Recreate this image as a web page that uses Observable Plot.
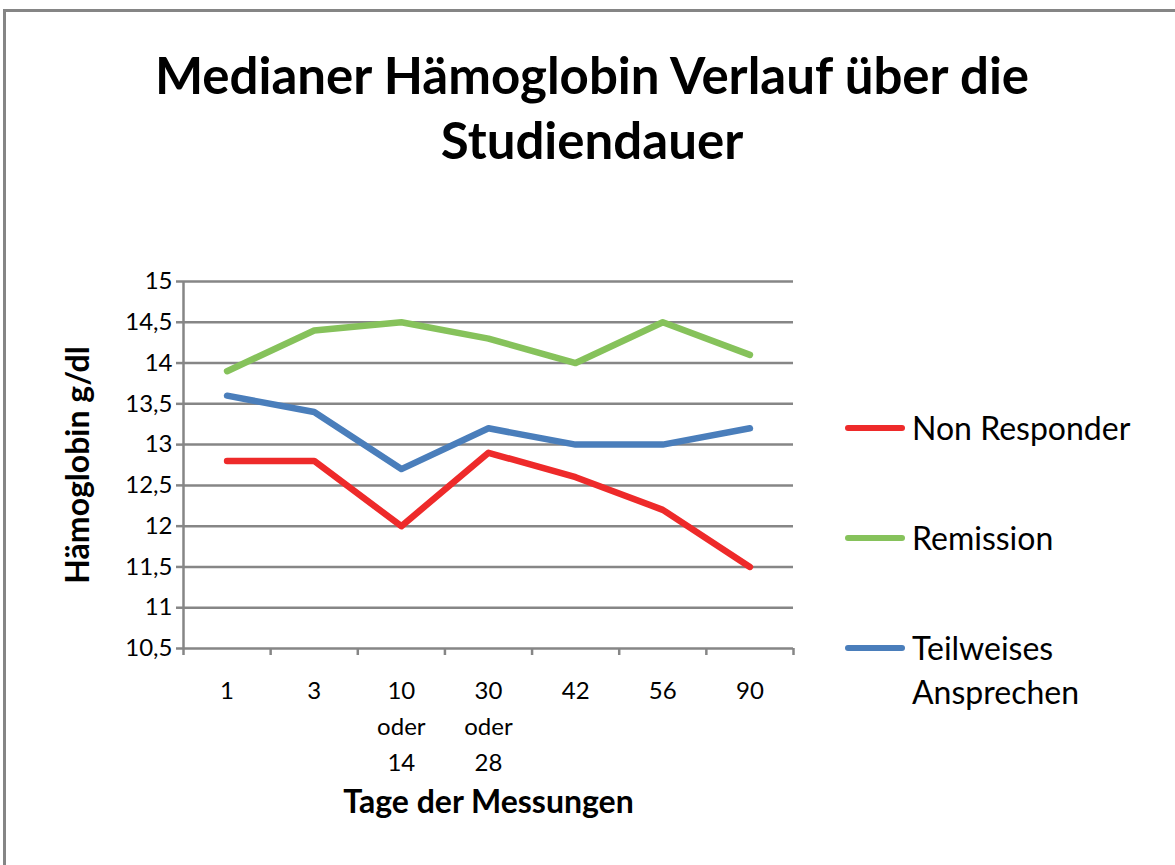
<!DOCTYPE html>
<html><head><meta charset="utf-8">
<script src="https://cdn.jsdelivr.net/npm/d3@7"></script>
<script src="https://cdn.jsdelivr.net/npm/@observablehq/plot@0.6"></script>
<style>
body{margin:0;background:#fff;}
#wrap{position:relative;width:1175px;height:865px;overflow:hidden;font-family:Lato,"Open Sans",sans-serif;color:#000;}
#frame{position:absolute;left:3px;top:9px;width:1200px;height:900px;border:3px solid #858585;box-sizing:border-box;}
#title{position:absolute;left:0;width:1184px;top:42px;text-align:center;font-weight:bold;font-size:51px;line-height:65px;}
#chart{position:absolute;left:0;top:0;}
#legend{position:absolute;left:845px;top:0;}
.li{position:absolute;left:0;width:320px;font-size:32px;line-height:44px;}
.sw{position:absolute;left:0;width:60px;height:6px;border-radius:3px;}
.lt{position:absolute;left:67px;white-space:nowrap;}
</style></head>
<body>
<div id="wrap">
  <div id="frame"></div>
  <div id="title">Medianer Hämoglobin Verlauf über die<br>Studiendauer</div>
  <div id="chart"></div>
  <div id="legend"></div>
</div>
<script>
const categories = ["1", "3", "10\noder\n14", "30\noder\n28", "42", "56", "90"];
const seriesNames = ["Non Responder", "Remission", "Teilweises Ansprechen"];
const legendLabels = ["Non Responder", "Remission", "Teilweises<br>Ansprechen"];
const nonResponder = [12.8, 12.8, 12.0, 12.9, 12.6, 12.2, 11.5];
const remission    = [13.9, 14.4, 14.5, 14.3, 14.0, 14.5, 14.1];
const teilweise    = [13.6, 13.4, 12.7, 13.2, 13.0, 13.0, 13.2];
const yTicks = [10.5, 11, 11.5, 12, 12.5, 13, 13.5, 14, 14.5, 15];
const colors = ["#ee2a2a", "#86c25b", "#4a7ebb"];

const seriesValues = [nonResponder, remission, teilweise];
const data = [];
seriesValues.forEach((vals, s) => vals.forEach((v, i) => data.push({series: seriesNames[s], i: i + 1, v})));
const bounds = d3.range(categories.length + 1).map(i => i + 0.5);
const labelData = categories.map((c, i) => ({i: i + 1, c}));
const grid = "#868686";

const chart = Plot.plot({
  width: 1175, height: 865,
  marginLeft: 183, marginRight: 382, marginTop: 281, marginBottom: 217,
  style: {fontFamily: "Lato, 'Open Sans', sans-serif", color: "#000", background: "transparent"},
  x: {type: "linear", domain: [0.5, categories.length + 0.5], axis: null, label: null},
  y: {domain: [10.5, 15], axis: null, label: null},
  color: {domain: seriesNames, range: colors},
  marks: [
    Plot.ruleY(yTicks, {stroke: grid, strokeWidth: 2.5}),
    Plot.axisY({ticks: yTicks, label: null, tickSize: 7, tickPadding: 4, stroke: grid, strokeWidth: 2.5, strokeOpacity: 1,
      tickFormat: d => String(d).replace(".", ","), fontSize: 24, fill: "#000"}),
    Plot.axisX({ticks: bounds, label: null, tickSize: 7, tickFormat: () => "", stroke: grid, strokeWidth: 2.5, strokeOpacity: 1}),
    Plot.ruleX([0.5], {stroke: grid, strokeWidth: 2.5}),
    Plot.text(labelData, {x: "i", text: "c", frameAnchor: "bottom", dy: 25, lineAnchor: "top", lineHeight: 1.5, fontSize: 24, fill: "#000"}),
    Plot.line(data, {x: "i", y: "v", z: "series", stroke: "series", strokeWidth: 6.5, strokeLinejoin: "round", strokeLinecap: "round"}),
    Plot.text(["Hämoglobin g/dl"], {frameAnchor: "left", dx: -105, rotate: -90, textAnchor: "middle", fontWeight: "bold", fontSize: 32, fill: "#000"}),
    Plot.text(["Tage der Messungen"], {frameAnchor: "bottom", dy: 164, fontWeight: "bold", fontSize: 32, fill: "#000"})
  ]
});
document.getElementById("chart").appendChild(chart);

const lg = document.getElementById("legend");
const tops = [428, 538, 648];
seriesNames.forEach((s, k) => {
  const d = document.createElement("div");
  d.className = "li";
  d.style.top = (tops[k] - 22) + "px";
  d.innerHTML = `<div class="sw" style="top:19px;background:${colors[k]}"></div><div class="lt">${legendLabels[k]}</div>`;
  lg.appendChild(d);
});
</script>
</body></html>
